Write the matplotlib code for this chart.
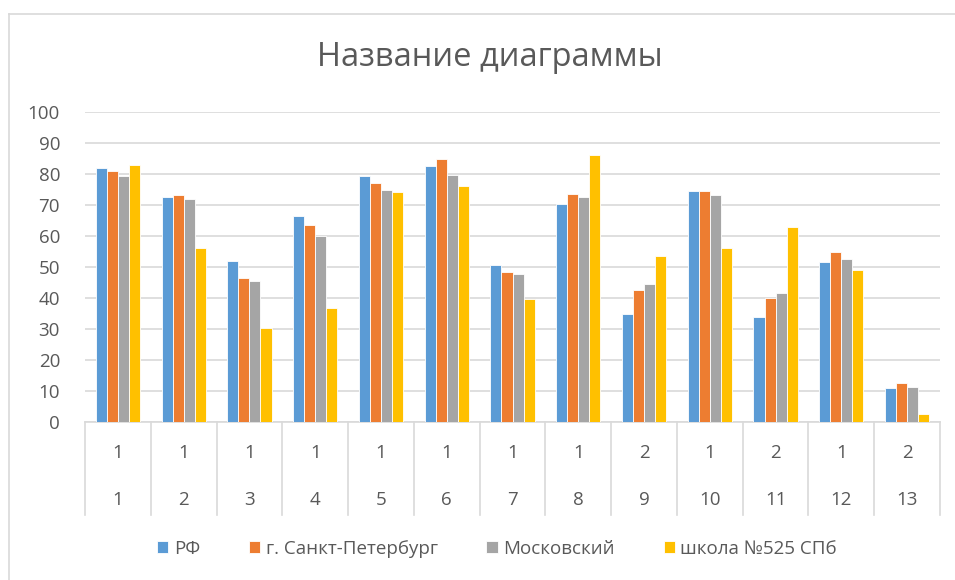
import numpy as np
import matplotlib
matplotlib.use("Agg")
import matplotlib.pyplot as plt
from matplotlib.lines import Line2D

plt.rcParams['font.family'] = ['Open Sans', 'DejaVu Sans']

# data
tasks = [str(i) for i in range(1, 14)]
points = ["1", "1", "1", "1", "1", "1", "1", "1", "2", "1", "2", "1", "2"]
series_names = ["РФ", "г. Санкт-Петербург", "Московский", "школа №525 СПб"]
rf = [81.9, 72.7, 51.8, 66.4, 79.2, 82.7, 50.8, 70.3, 34.8, 74.5, 33.9, 51.6, 11.1]
spb = [81.0, 73.2, 46.6, 63.6, 77.0, 84.7, 48.5, 73.6, 42.6, 74.5, 40.0, 54.8, 12.5]
mosk = [79.2, 71.9, 45.6, 60.1, 74.7, 79.8, 47.8, 72.6, 44.5, 73.1, 41.6, 52.5, 11.3]
school = [83.0, 56.0, 30.4, 36.7, 74.1, 76.1, 39.8, 86.1, 53.6, 56.0, 62.9, 49.1, 2.5]
colors = ["#5b9bd5", "#ed7d31", "#a5a5a5", "#ffc000"]

W, H = 955, 580
fig = plt.figure(figsize=(W / 100, H / 100), dpi=100)
ax = fig.add_axes([85 / W, 1 - 422 / H, (940 - 85) / W, (422 - 112) / H])

x = np.arange(len(tasks))
bw = 0.168
handles = []
for i, (vals, c) in enumerate(zip([rf, spb, mosk, school], colors)):
    b = ax.bar(x + (i - 1.5) * bw, vals, bw, color=c, edgecolor="white", linewidth=0.6, zorder=3)
    handles.append(b)

ax.set_xlim(-0.5, len(tasks) - 0.5)
ax.set_ylim(0, 100)
ax.set_yticks(range(0, 101, 10))
ax.yaxis.grid(True, color="#d9d9d9", linewidth=1.2, zorder=0)
ax.set_xticks([])
for s in ["top", "right", "left"]:
    ax.spines[s].set_visible(False)
ax.spines["bottom"].set_color("#d9d9d9")
ax.spines["bottom"].set_linewidth(1.2)
ax.tick_params(axis="y", length=0, labelsize=13.5, labelcolor="#595959", pad=18)

# two-level category axis
trans = ax.get_xaxis_transform()
y_sep = -(515 - 422) / (422 - 112)
y_pts = -(453 - 422) / (422 - 112)
y_task = -(500 - 422) / (422 - 112)
for k in range(len(tasks) + 1):
    ax.add_line(Line2D([k - 0.5, k - 0.5], [0, y_sep], transform=trans,
                       color="#d9d9d9", linewidth=1.2, clip_on=False))
for k in range(len(tasks)):
    ax.text(k, y_pts, points[k], transform=trans, ha="center", va="center",
            fontsize=13.5, color="#595959")
    ax.text(k, y_task, tasks[k], transform=trans, ha="center", va="center",
            fontsize=13.5, color="#595959")

fig.text(490 / W, 1 - 57 / H, "Название диаграммы", ha="center", va="center",
         fontsize=23.5, color="#595959")

fig.legend(handles, series_names, loc="center", bbox_to_anchor=(497 / W, 1 - 549 / H),
           ncol=4, frameon=False, fontsize=13.5, labelcolor="#595959",
           handlelength=0.6, handleheight=0.6, handletextpad=0.3, columnspacing=2.6)

# chart border
fig.add_artist(Line2D([9 / W, 1], [1 - 13.5 / H, 1 - 13.5 / H], color="#d9d9d9", linewidth=1.2))
fig.add_artist(Line2D([9 / W, 9 / W], [0, 1 - 13.5 / H], color="#d9d9d9", linewidth=1.2))

fig.savefig("out.png", dpi=100)
